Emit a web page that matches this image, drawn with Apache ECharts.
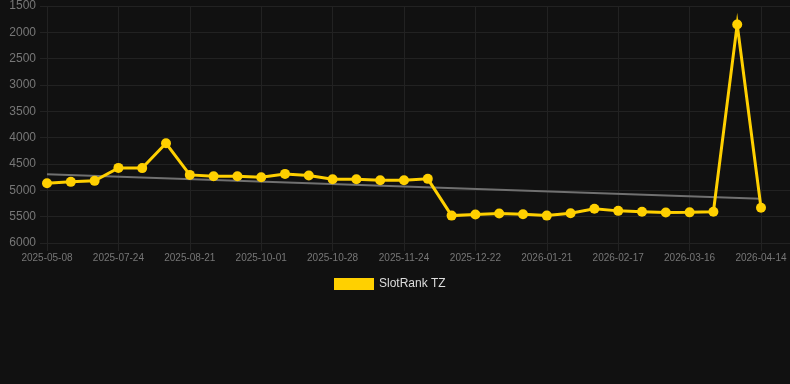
<!DOCTYPE html>
<html>
<head>
<meta charset="utf-8">
<script src="https://cdn.jsdelivr.net/npm/echarts@6/dist/echarts.min.js"></script>
<style>
    html, body { margin: 0; padding: 0; background: #111111; }
    #rankChart { width: 790px; height: 384px; }
</style>
</head>
<body>
<div id="rankChart"></div>
<script>
// dates of the snapshots (every third one is labelled on the axis)
var dates = [
    '2025-05-08', '2025-05-29', '2025-06-26', '2025-07-24', '2025-08-02', '2025-08-11',
    '2025-08-21', '2025-09-03', '2025-09-17', '2025-10-01', '2025-10-10', '2025-10-19',
    '2025-10-28', '2025-11-06', '2025-11-15', '2025-11-24', '2025-12-03', '2025-12-12',
    '2025-12-22', '2025-12-31', '2026-01-11', '2026-01-21', '2026-01-30', '2026-02-08',
    '2026-02-17', '2026-02-26', '2026-03-07', '2026-03-16', '2026-03-25', '2026-04-04',
    '2026-04-14'
];

// rank of the slot on each date
var rankValues = [
    4864, 4839, 4820, 4574, 4578, 4106,
    4707, 4731, 4731, 4750, 4688, 4720,
    4788, 4788, 4807, 4807, 4782, 5480,
    5460, 5440, 5455, 5480, 5435, 5350,
    5390, 5405, 5420, 5418, 5405, 1850,
    5330
];

// trend line, value at first and last date
var trendValues = [4695, 5160];

// rank axis ticks
var yMin = 1500;
var yMax = 6000;
var yStep = 500;

var gridColor = '#222222';
var labelColor = '#777777';
var lineColor = '#ffd000';
var fontName = 'Liberation Sans, Arial, sans-serif';

var chart = echarts.init(document.getElementById('rankChart'));

var option = {
    backgroundColor: '#111111',
    animation: false,
    grid: [
        // background grid: y labels and horizontal lines
        {left: 40, right: 0, top: 6, bottom: 141},
        // data grid
        {left: 47, right: 29, top: 6, bottom: 141}
    ],
    legend: {
        data: ['SlotRank TZ'],
        left: 329,
        top: 273,
        icon: 'rect',
        itemWidth: 40,
        itemHeight: 12,
        textStyle: {color: '#dddddd', fontSize: 12, fontFamily: fontName}
    },
    xAxis: [
        {gridIndex: 0, type: 'category', data: dates, show: false},
        {
            gridIndex: 1,
            type: 'category',
            data: dates,
            boundaryGap: false,
            axisLine: {show: false},
            axisTick: {show: true, interval: 2, length: 8, lineStyle: {color: gridColor}},
            axisLabel: {interval: 2, color: labelColor, fontSize: 10, margin: 10, fontFamily: fontName},
            splitLine: {show: true, interval: 2, lineStyle: {color: gridColor}}
        }
    ],
    yAxis: [
        {
            gridIndex: 0,
            type: 'value',
            inverse: true,
            min: yMin,
            max: yMax,
            interval: yStep,
            axisLine: {show: false},
            axisTick: {show: false},
            axisLabel: {
                color: labelColor,
                fontSize: 12,
                margin: 4,
                fontFamily: fontName,
                formatter: function(v) { return String(v); }
            },
            splitLine: {show: true, lineStyle: {color: gridColor}}
        },
        {
            gridIndex: 1,
            type: 'value',
            inverse: true,
            min: yMin,
            max: yMax,
            interval: yStep,
            show: false
        }
    ],
    series: [
        {
            name: 'Trend',
            type: 'line',
            xAxisIndex: 1,
            yAxisIndex: 1,
            data: [[dates[0], trendValues[0]], [dates[dates.length - 1], trendValues[1]]],
            symbol: 'none',
            silent: true,
            lineStyle: {color: '#707070', width: 2}
        },
        {
            name: 'SlotRank TZ',
            type: 'line',
            xAxisIndex: 1,
            yAxisIndex: 1,
            data: rankValues,
            symbol: 'circle',
            symbolSize: 10,
            itemStyle: {color: lineColor},
            lineStyle: {color: lineColor, width: 3, join: 'miter'}
        }
    ]
};

chart.setOption(option);
</script>
</body>
</html>
